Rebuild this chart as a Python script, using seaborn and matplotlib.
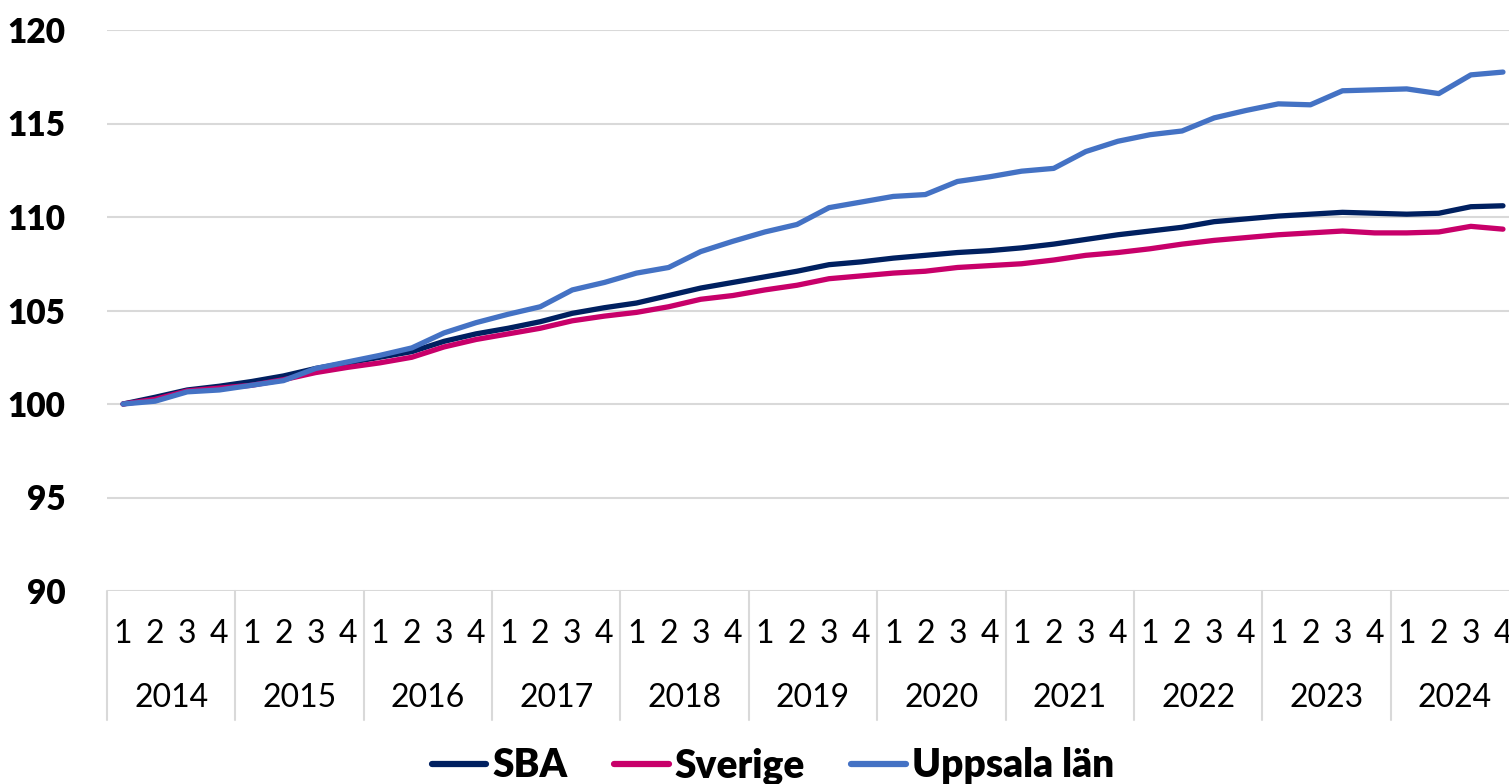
import matplotlib
matplotlib.use("Agg")
import matplotlib.pyplot as plt
import matplotlib.transforms as mtransforms
from matplotlib.lines import Line2D
import pandas as pd
import seaborn as sns

# Data: index, 2014 Q1 = 100
years = [str(y) for y in range(2014, 2025)]
quarters = ["1", "2", "3", "4"]

sba = [100.0, 100.36, 100.75, 100.95, 101.2, 101.5, 101.9, 102.2, 102.5, 102.8,
       103.35, 103.75, 104.05, 104.4, 104.85, 105.15, 105.4, 105.8, 106.2, 106.5,
       106.8, 107.1, 107.45, 107.6, 107.8, 107.95, 108.1, 108.2, 108.35, 108.55,
       108.8, 109.05, 109.25, 109.45, 109.75, 109.9, 110.05, 110.15, 110.25, 110.2,
       110.15, 110.2, 110.55, 110.6]
sverige = [100.0, 100.25, 100.7, 100.85, 101.0, 101.3, 101.68, 101.96, 102.2, 102.5,
           103.05, 103.45, 103.75, 104.05, 104.45, 104.7, 104.9, 105.2, 105.6, 105.8,
           106.1, 106.35, 106.7, 106.85, 107.0, 107.1, 107.3, 107.4, 107.5, 107.7,
           107.95, 108.1, 108.3, 108.55, 108.75, 108.9, 109.05, 109.15, 109.25, 109.15,
           109.15, 109.2, 109.5, 109.35]
uppsala = [100.0, 100.15, 100.65, 100.75, 101.0, 101.25, 101.9, 102.25, 102.6, 103.0,
           103.8, 104.35, 104.8, 105.2, 106.1, 106.5, 107.0, 107.3, 108.15, 108.7,
           109.2, 109.6, 110.5, 110.8, 111.1, 111.2, 111.9, 112.15, 112.45, 112.6,
           113.5, 114.05, 114.4, 114.6, 115.3, 115.7, 116.05, 116.0, 116.75, 116.8,
           116.85, 116.6, 117.6, 117.75]

series_names = ["SBA", "Sverige", "Uppsala län"]
colors = {"SBA": "#002060", "Sverige": "#C8006A", "Uppsala län": "#4472C4"}

n = len(sba)
df = pd.DataFrame({
    "idx": list(range(n)) * 3,
    "value": sba + sverige + uppsala,
    "serie": ["SBA"] * n + ["Sverige"] * n + ["Uppsala län"] * n,
})

sns.set_theme(style="white")
plt.rcParams["font.family"] = ["Lato", "DejaVu Sans"]
plt.rcParams["text.color"] = "black"
plt.rcParams["ytick.color"] = "black"

fig = plt.figure(figsize=(15.09, 7.84), dpi=100)
ax = fig.add_axes([107 / 1509, 1 - 591 / 784, 1412 / 1509, 561 / 784])

sns.lineplot(data=df, x="idx", y="value", hue="serie", hue_order=series_names,
             palette=colors, linewidth=3.8, legend=False, ax=ax,
             solid_capstyle="round")

ax.set_xlim(-0.5, n - 0.5)
ax.set_ylim(90, 120)
ax.set_yticks(range(90, 121, 5))
ax.grid(axis="y", color="#D9D9D9", linewidth=1.5)
ax.grid(axis="x", visible=False)
for s in ax.spines.values():
    s.set_visible(False)
ax.set_xlabel("")
ax.set_ylabel("")
ax.tick_params(axis="y", length=0, pad=30, labelsize=24, labelcolor="black")
for lab in ax.get_yticklabels():
    lab.set_fontweight("heavy")
ax.set_xticks([])

# multi-level category axis
trans = mtransforms.blended_transform_factory(ax.transData, ax.transAxes)
for i in range(n):
    ax.text(i, -0.077, quarters[i % 4], transform=trans, ha="center", va="center",
            fontsize=23, color="black")
for k, y in enumerate(years):
    ax.text(4 * k + 1.5, -0.19, y, transform=trans, ha="center", va="center",
            fontsize=23, color="black")
for k in range(len(years) + 1):
    ax.plot([4 * k - 0.5, 4 * k - 0.5], [0, -0.23], transform=trans,
            color="#D9D9D9", linewidth=1.5, clip_on=False)

handles = [Line2D([0], [0], color=colors[s], linewidth=4.5, solid_capstyle="round")
           for s in series_names]
leg = fig.legend(handles, series_names, loc="center", ncol=3,
                 bbox_to_anchor=(773 / 1509, 1 - 766 / 784), frameon=False,
                 prop={"size": 28, "weight": "heavy"}, handlelength=1.4,
                 handletextpad=0.15, columnspacing=1.2)
for t in leg.get_texts():
    t.set_color("black")

fig.savefig("out.png", dpi=100)
